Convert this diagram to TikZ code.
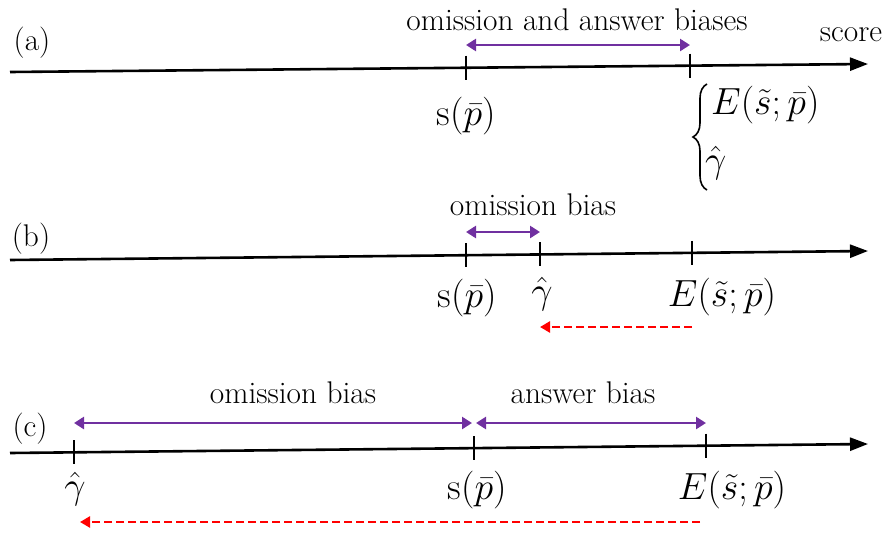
\documentclass[tikz,border=0pt]{standalone}
\usepackage{fontspec}
\usepackage{graphicx}
\usetikzlibrary{arrows.meta,decorations.pathreplacing}
\definecolor{bpurple}{RGB}{112,48,160}
\definecolor{bred}{RGB}{255,0,0}
\newcommand{\bt}[1]{\scalebox{1.26}{\Huge #1}}
\newcommand{\bm}[1]{\scalebox{1.52}{\Huge $#1$}}
\tikzset{
  axisline/.style={line width=2.6pt, -{Triangle[length=18pt,width=13pt]}},
  tickline/.style={line width=1.8pt},
  biasarrow/.style={line width=2.8pt, bpurple, {Triangle[length=10pt,width=12pt]}-{Triangle[length=10pt,width=12pt]}},
  shiftarrow/.style={line width=2.4pt, bred, dash pattern=on 8pt off 4pt, -{Triangle[length=10pt,width=11pt]}},
  lbl/.style={inner sep=0pt},
}
\begin{document}
\begin{tikzpicture}[x=1pt,y=-1pt]
\useasboundingbox (0,0) rectangle (891,533);
% ---------- (a)
\coordinate (a0) at (10,72);
\coordinate (a1) at (868,64);
\draw[axisline] (a0) -- (a1);
\coordinate (aS) at (466,67.7);
\coordinate (aE) at (690,65.7);
\draw[tickline] ([yshift=12pt]aS) -- ([yshift=-12pt]aS);
\draw[tickline] ([yshift=12pt]aE) -- ([yshift=-12pt]aE);
\node[lbl] (la) at (32,43) {\bt{(a)}};
\node[lbl] (score) at (851,35) {\bt{score}};
\node[lbl] (ta) at (577,20) {\bt{omission and answer biases}};
\coordinate (aSu) at (466,45);
\coordinate (aEu) at (690,45);
\draw[biasarrow] (aSu) -- (aEu);
\node[lbl] (aSl) at (466,116) {\bm{\mathrm{s}(\bar p)}};
\node[lbl,anchor=west] (aEl) at (711,105) {\bm{E(\tilde s;\bar p)}};
\node[lbl,anchor=west] (aGl) at (705,163) {\bm{\hat\gamma}};
\coordinate (brb) at (707,190);
\coordinate (brt) at (707,84);
\draw[line width=1.6pt, decorate, decoration={brace,amplitude=14pt}] (brb) -- (brt);
% ---------- (b)
\coordinate (b0) at (10,260);
\coordinate (b1) at (868,251);
\draw[axisline] (b0) -- (b1);
\coordinate (bS) at (466,255.2);
\coordinate (bG) at (540,254.4);
\coordinate (bE) at (692,252.8);
\draw[tickline] ([yshift=12pt]bS) -- ([yshift=-12pt]bS);
\draw[tickline] ([yshift=12pt]bG) -- ([yshift=-12pt]bG);
\draw[tickline] ([yshift=12pt]bE) -- ([yshift=-12pt]bE);
\node[lbl] (lb) at (31,239) {\bt{(b)}};
\node[lbl] (tb) at (533,205) {\bt{omission bias}};
\coordinate (bSu) at (466,232);
\coordinate (bGu) at (540,232);
\draw[biasarrow] (bSu) -- (bGu);
\node[lbl] (bSl) at (467,298) {\bm{\mathrm{s}(\bar p)}};
\node[lbl] (bGl) at (542,294) {\bm{\hat\gamma}};
\node[lbl] (bEl) at (722,297) {\bm{E(\tilde s;\bar p)}};
\coordinate (bEd) at (692,327);
\coordinate (bGd) at (540,327);
\draw[shiftarrow] (bEd) -- (bGd);
% ---------- (c)
\coordinate (c0) at (10,453);
\coordinate (c1) at (868,444);
\draw[axisline] (c0) -- (c1);
\coordinate (cG) at (74,452.3);
\coordinate (cS) at (474,448.1);
\coordinate (cE) at (706,445.7);
\draw[tickline] ([yshift=12pt]cG) -- ([yshift=-12pt]cG);
\draw[tickline] ([yshift=12pt]cS) -- ([yshift=-12pt]cS);
\draw[tickline] ([yshift=12pt]cE) -- ([yshift=-12pt]cE);
\node[lbl] (lc) at (30,429) {\bt{(c)}};
\node[lbl] (tco) at (293,393) {\bt{omission bias}};
\node[lbl] (tca) at (583,393) {\bt{answer bias}};
\coordinate (cGu) at (74,423);
\coordinate (cSul) at (472,423);
\coordinate (cSur) at (476,423);
\coordinate (cEu) at (706,423);
\draw[biasarrow] (cGu) -- (cSul);
\draw[biasarrow] (cSur) -- (cEu);
\node[lbl] (cGl) at (75,489) {\bm{\hat\gamma}};
\node[lbl] (cSl) at (477,490) {\bm{\mathrm{s}(\bar p)}};
\node[lbl] (cEl) at (732,490) {\bm{E(\tilde s;\bar p)}};
\coordinate (cEd) at (700,522);
\coordinate (cGd) at (80,522);
\draw[shiftarrow] (cEd) -- (cGd);
\end{tikzpicture}
\end{document}
